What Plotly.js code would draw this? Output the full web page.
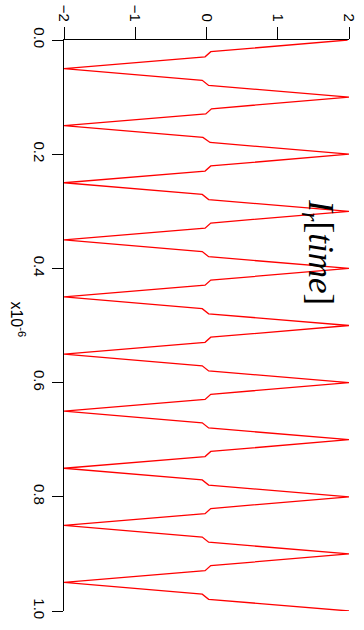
<!DOCTYPE html>
<html>
<head>
<meta charset="utf-8">
<script src="https://cdn.plot.ly/plotly-3.0.1.min.js"></script>
<style>html,body{margin:0;padding:0;background:#fff;}#chart{width:364px;height:630px;}</style>
</head>
<body>
<div id="chart"></div>
<script>
// time in units of 1e-6 s
var timeUs = [
  0.0000, 0.0205, 0.0295, 0.0500, 0.0705, 0.0795,
  0.1000, 0.1205, 0.1295, 0.1500, 0.1705, 0.1795,
  0.2000, 0.2205, 0.2295, 0.2500, 0.2705, 0.2795,
  0.3000, 0.3205, 0.3295, 0.3500, 0.3705, 0.3795,
  0.4000, 0.4205, 0.4295, 0.4500, 0.4705, 0.4795,
  0.5000, 0.5205, 0.5295, 0.5500, 0.5705, 0.5795,
  0.6000, 0.6205, 0.6295, 0.6500, 0.6705, 0.6795,
  0.7000, 0.7205, 0.7295, 0.7500, 0.7705, 0.7795,
  0.8000, 0.8205, 0.8295, 0.8500, 0.8705, 0.8795,
  0.9000, 0.9205, 0.9295, 0.9500, 0.9705, 0.9795,
  1.0000
];
var current = [
  1.98, 0.06, -0.02, -2.00, -0.06, 0.03,
  2.00, 0.07, -0.01, -2.00, -0.05, 0.05,
  2.00, 0.06, -0.02, -2.00, -0.06, 0.03,
  2.00, 0.06, -0.02, -2.00, -0.06, 0.03,
  2.00, 0.06, -0.02, -2.00, -0.06, 0.03,
  2.00, 0.06, -0.02, -2.00, -0.06, 0.03,
  2.00, 0.06, -0.02, -2.00, -0.06, 0.03,
  2.00, 0.06, -0.02, -2.00, -0.06, 0.03,
  2.00, 0.06, -0.02, -2.00, -0.06, 0.03,
  2.00, 0.06, -0.02, -2.00, -0.06, 0.03,
  2.00
];
var valueTicks = [-2, -1, 0, 1, 2];
var timeTicks = [0, 0.2, 0.4, 0.6, 0.8, 1.0];
var timeTickText = ["0.0", "0.2", "0.4", "0.6", "0.8", "1.0"];

var trace = {
  x: current, y: timeUs, type: 'scatter', mode: 'lines',
  line: {color: '#ff0000', width: 1.3}, hoverinfo: 'skip'
};
var sans = 'Liberation Sans';
var layout = {
  width: 364, height: 630,
  margin: {l: 64, r: 15, t: 40, b: 19, pad: 0},
  paper_bgcolor: '#ffffff', plot_bgcolor: '#ffffff',
  showlegend: false,
  font: {family: sans, size: 15, color: '#000'},
  xaxis: {
    side: 'top', range: [-2, 2], tickmode: 'array', tickvals: valueTicks,
    ticks: 'outside', ticklen: 12, tickwidth: 1, tickcolor: '#000',
    tickangle: 90, showline: true, linecolor: '#000', linewidth: 1,
    tickfont: {family: sans, size: 15, color: '#000'},
    showgrid: false, zeroline: false, automargin: false
  },
  yaxis: {
    range: [1.0, 0.0], tickmode: 'array', tickvals: timeTicks, ticktext: timeTickText,
    ticks: 'outside', ticklen: 11, tickwidth: 1, tickcolor: '#000',
    tickangle: 90, showline: true, linecolor: '#000', linewidth: 1,
    tickfont: {family: sans, size: 15, color: '#000'},
    showgrid: false, zeroline: false, automargin: false
  },
  annotations: [
    {text: 'x10<sup>-6</sup>', xref: 'paper', yref: 'paper', x: -0.16, y: 0.51,
     xanchor: 'center', yanchor: 'middle',
     textangle: 90, showarrow: false, font: {family: sans, size: 16, color: '#000'}},
    {text: '<i>I</i><sub><i>r</i></sub>[<i>time</i>]', xref: 'paper', yref: 'paper', x: 0.895, y: 0.628,
     xanchor: 'center', yanchor: 'middle',
     textangle: 90, showarrow: false, font: {family: 'Liberation Serif', size: 35, color: '#000'}}
  ]
};
Plotly.newPlot('chart', [trace], layout, {staticPlot: true, displayModeBar: false});
</script>
</body>
</html>
